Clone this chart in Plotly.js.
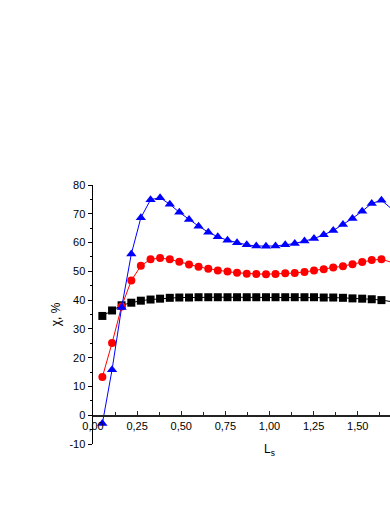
<!DOCTYPE html>
<html>
<head>
<meta charset="utf-8">
<script src="https://cdn.plot.ly/plotly-3.0.1.min.js"></script>
<style>
  html, body { margin: 0; padding: 0; background: #fff; overflow: hidden; }
  #plot { width: 390px; height: 505px; }
</style>
</head>
<body>
<div id="plot"></div>
<script>
// L_s values (shared by all three series)
const ls = [0.053, 0.108, 0.162, 0.217, 0.271, 0.326, 0.380, 0.435, 0.489, 0.544,
            0.598, 0.653, 0.707, 0.762, 0.816, 0.871, 0.925, 0.980, 1.034, 1.089,
            1.143, 1.198, 1.252, 1.307, 1.361, 1.416, 1.470, 1.525, 1.579, 1.634, 1.688];

// chi, % for each series
const chiBlack = [34.5, 36.4, 38.2, 39.1, 39.8, 40.2, 40.5, 40.8, 40.9, 40.9,
                  41.0, 41.0, 41.0, 41.0, 41.0, 41.0, 41.0, 41.0, 41.0, 41.0,
                  41.0, 41.0, 41.0, 40.9, 40.9, 40.8, 40.6, 40.5, 40.3, 40.0, 39.5];
const chiRed = [13.3, 25.1, 37.8, 46.8, 51.9, 54.2, 54.6, 54.2, 53.3, 52.4,
                51.6, 50.9, 50.3, 49.9, 49.5, 49.2, 49.1, 49.0, 49.1, 49.3,
                49.4, 49.8, 50.3, 50.7, 51.3, 51.8, 52.5, 53.2, 53.9, 54.2, 53.2];
const chiBlue = [-2.9, 15.8, 37.4, 56.0, 68.6, 74.9, 75.6, 73.3, 70.5, 68.0,
                 65.7, 63.6, 62.0, 60.8, 59.9, 59.2, 58.8, 58.7, 58.8, 59.2,
                 59.7, 60.5, 61.4, 62.7, 64.2, 66.3, 68.4, 70.9, 73.6, 74.7, 71.9];

// axis ticks
const xTicks = [0, 0.25, 0.5, 0.75, 1, 1.25, 1.5];
const xLabels = ["0,00", "0,25", "0,50", "0,75", "1,00", "1,25", "1,50"];
const yTicks = [-10, 0, 10, 20, 30, 40, 50, 60, 70, 80];
const yLabels = ["-10", "0", "10", "20", "30", "40", "50", "60", "70", "80"];

const series = [
    { y: chiBlack, color: "#000000", symbol: "square", size: 8 },
    { y: chiRed, color: "#ff0000", symbol: "circle", size: 8 },
    { y: chiBlue, color: "#0000ff", symbol: "triangle-up", size: 9 }
];

const data = series.map(s => ({
    x: ls, y: s.y, type: "scatter", mode: "lines+markers",
    line: { color: s.color, width: 1 },
    marker: { color: s.color, symbol: s.symbol, size: s.size },
    cliponaxis: false,
    showlegend: false
}));

const font = { family: "Liberation Sans, Arial, sans-serif", size: 11, color: "#000" };

const layout = {
    width: 390, height: 505,
    margin: { l: 93, r: 0, t: 185, b: 61 },
    paper_bgcolor: "#fff", plot_bgcolor: "#fff",
    font: font,
    xaxis: {
        range: [0, 1.6825],
        anchor: "free", position: 10 / 90,   // axis crosses at chi = 0
        showgrid: false, zeroline: false,
        showline: true, linecolor: "#222", linewidth: 1.5,
        ticks: "inside", ticklen: 4, tickwidth: 1, tickcolor: "#222",
        tickvals: xTicks, ticktext: xLabels,
        minor: { dtick: 0.125, ticks: "inside", ticklen: 3, tickcolor: "#222" }
    },
    yaxis: {
        range: [-10, 80],
        showgrid: false, zeroline: false,
        showline: true, linecolor: "#000", linewidth: 1.5,
        ticks: "outside", ticklen: 4, tickwidth: 1, tickcolor: "#000",
        tickvals: yTicks, ticktext: yLabels,
        minor: { dtick: 5, ticks: "outside", ticklen: 2, tickcolor: "#000" },
        title: { text: "χ, %", font: { size: 12 }, standoff: 6 }
    },
    // x title sits at L_s = 1 (centre of the original 0..2 axis, cut off on the right)
    annotations: [{
        text: "L<sub>s</sub>", xref: "x", x: 1.0, yref: "paper", y: -0.025,
        xanchor: "center", yanchor: "middle", showarrow: false,
        font: { size: 12 }
    }]
};

Plotly.newPlot("plot", data, layout, { displayModeBar: false, staticPlot: true });
</script>
</body>
</html>
